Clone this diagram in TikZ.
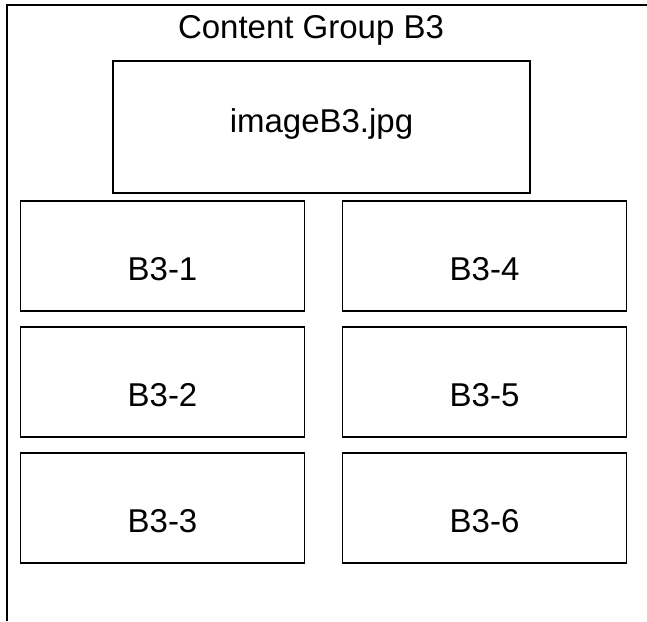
\documentclass[tikz,border=0pt]{standalone}
\usepackage{fontspec}
\setmainfont{Liberation Sans}
\tikzset{
  cell/.style={draw,line width=1.6pt,inner sep=0pt,minimum width=284pt,
    text height=79pt,text depth=31pt,font=\fontsize{33}{38}\selectfont},
  imgbox/.style={cell,minimum width=417pt,text height=71pt,text depth=61pt}
}
\begin{document}
\begin{tikzpicture}[x=1pt,y=1pt]
\useasboundingbox (0,0) rectangle (647,-621);
% Outer frame (open at right and bottom)
\coordinate (fbl) at (7,-621);
\coordinate (ftl) at (7,-5);
\coordinate (ftr) at (647,-5);
\draw[line width=1.6pt] (fbl) -- (ftl) -- (ftr);

% Title
\node[font=\fontsize{33}{38}\selectfont,anchor=base] (title) at (311,-38) {Content Group B3};

% Image
\node[imgbox] (img) at (321.5,-127) {imageB3.jpg};

% Items
\node[cell] (b1) at (162.5,-256) {B3-1};
\node[cell] (b2) at (162.5,-382) {B3-2};
\node[cell] (b3) at (162.5,-508) {B3-3};
\node[cell] (b4) at (484.5,-256) {B3-4};
\node[cell] (b5) at (484.5,-382) {B3-5};
\node[cell] (b6) at (484.5,-508) {B3-6};
\end{tikzpicture}
\end{document}
